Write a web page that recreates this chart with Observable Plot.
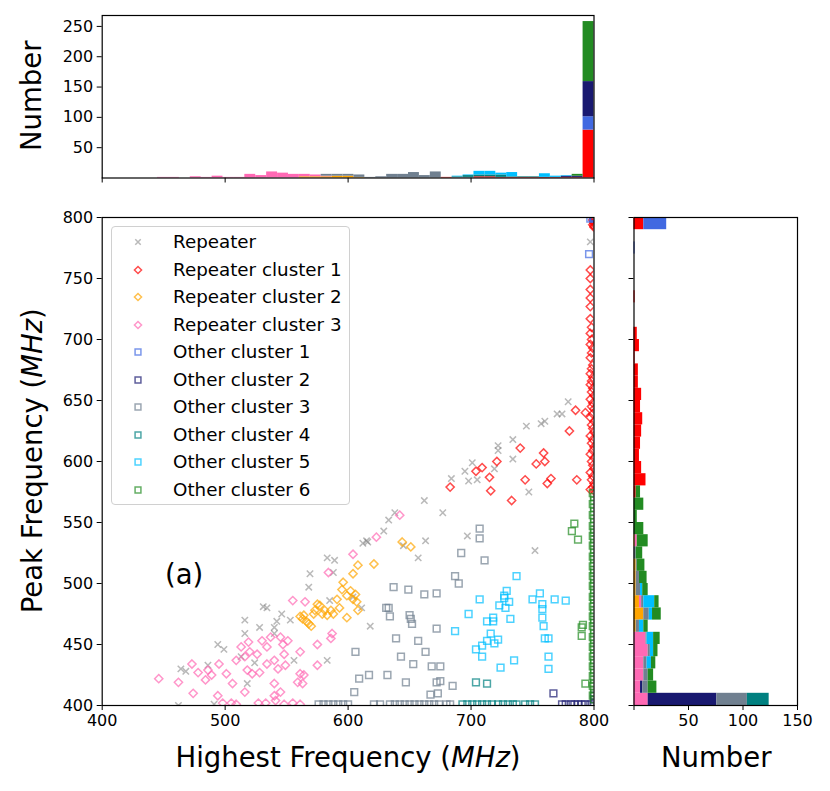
<!DOCTYPE html>
<html><head><meta charset="utf-8">
<script src="https://cdn.jsdelivr.net/npm/d3@7"></script>
<script src="https://cdn.jsdelivr.net/npm/@observablehq/plot@0.6"></script>
<style>
body{margin:0;background:#fff;font-family:"DejaVu Sans",sans-serif;}
#wrap{position:relative;width:830px;height:791px;overflow:hidden;background:#fff;}
.abs{position:absolute;}
.lbl{position:absolute;font-size:27.5px;white-space:nowrap;color:#000;line-height:1;}
#legend{position:absolute;left:111px;top:226px;width:239px;height:279px;border:1.3px solid #d0d0d0;border-radius:4px;background:rgba(255,255,255,0.85);box-sizing:border-box;}
.lrow{position:absolute;left:0;height:20px;font-size:18.3px;line-height:20px;white-space:nowrap;}
.lrow svg{position:absolute;left:19px;top:3px;}
.lrow span{position:absolute;left:61px;top:0;}
</style></head><body><div id="wrap"></div><script>
// ---------- tick values ----------
const xTicks = [400, 500, 600, 700, 800];
const yTicks = [400, 450, 500, 550, 600, 650, 700, 750, 800];
const topYTicks = [50, 100, 150, 200, 250];
const rightXTicks = [0, 50, 100, 150];

// ---------- clusters ----------
const clusterKeys = ["Repeater cluster 1","Repeater cluster 2","Repeater cluster 3","Other cluster 1","Other cluster 2","Other cluster 3","Other cluster 4","Other cluster 5","Other cluster 6"];
const clusterColors = ["red","orange","hotpink","royalblue","midnightblue","slategray","teal","deepskyblue","forestgreen"];

// ---------- scatter points [Highest Frequency, Peak Frequency] ----------
const repeaterPts = [[464,430],[468,428],[486,433],[494,450],[499,446],[513,440],[516,470],[516,459],[518,418],[528,464],[534,480],[531,481],[540,464],[542,469],[546,475],[553,470],[540,459],[524,435],[556,437],[569,508],[568,497],[583,521],[589,519],[588,509],[585,486],[604,489],[611,480],[615,535],[618,465],[583,437],[462,400],[491,401],
[612,533],[616,534],[629,543],[633,552],[638,558],[645,531],[657,521],[663,535],[662,568],[677,558],[684,586],[695,592],[698,584],[701,599],[705,585],[697,539],[719,594],[722,609],[722,613],[734,602],[734,618],[745,629],[747,575],[752,527],[757,631],[760,633],[770,639],[774,639],[779,649],[797,780]];

const rep1Pts = [[683,579],[704,592],[709,595],[715,587],[716,576],[721,600],[733,568],[740,611],[744,585],[753,598],[759,607],[760,600],[762,582],[765,586],[780,625],[785,642],[786,585],[793,640],
[797,757],[797,750],[797,741],[797,734],[797,727],[797,717],[798,710],[797,705],[798,700],[797,696],[799,693],[798,689],[797,685],[799,679],[798,676],[797,672],[799,669],[798,666],[797,663],[799,660],[798,657],[800,654],[797,651],[799,648],[798,645],[800,643],[799,639],[797,636],[800,633],[798,630],[799,627],[800,624],[797,621],[799,618],[798,615],[800,612],[799,609],[797,606],[800,603],[798,600],[799,597],[800,594],[797,591],[799,588],[798,585],[800,582],[799,579],[797,577],[800,576],
[800,800],[800,799],[799,798],[800,797],[800,796],[800,795],[799,794],[800,793],[800,792]];

const rep2Pts = [[563,471],[568,467],[572,475],[577,482],[573,478],[579,475],[583,474],[588,475],[591,487],[593,480],[596,501],[599,490],[599,472],[604,508],[604,487],[607,485],[608,478],[608,515],[621,516],[566,469],[564,474],[644,534],[651,530],[561,473],[570,465],[575,483],[581,478],[586,478],[595,495],[602,494],[606,491]];

const rep3Pts = [[446,422],[462,419],[474,410],[473,434],[478,427],[484,421],[486,429],[494,408],[495,434],[501,426],[498,402],[506,418],[513,448],[516,440],[520,444],[518,429],[516,411],[522,426],[526,442],[530,453],[534,448],[537,456],[534,434],[540,437],[540,418],[545,456],[547,450],[551,453],[548,442],[549,433],[540,408],[545,411],[541,404],[561,444],[561,426],[563,418],[559,419],[564,425],[555,486],[565,485],[575,450],[575,433],[586,455],[587,459],[584,509],[604,524],[623,538],[642,556],
[505,402],[509,401],[527,402],[533,402],[548,401],[555,402],[561,401],[489,425],[509,437],[528,427],[543,430],[519,452]];

const oth1Pts = [[796,770],[797,799],[800,800],[799,800],[800,799]];

const oth2Pts = [[767,410],[774,401],[777,401],[781,401],[784,401],[787,401],[790,401],[793,401],[797,401],[800,402],[800,405],[800,408]];

const oth3Pts = [[606,444],[609,422],[617,425],[605,411],
[707,545],[707,537],[692,525],[711,519],[687,506],[690,500],[637,497],[649,495],[662,491],[672,492],[631,480],[633,480],[634,473],[650,474],[651,471],[652,467],[672,463],[639,455],[657,453],[643,440],[663,444],[653,434],[668,432],[675,432],[632,425],[647,419],[672,419],[675,420],[685,416],[667,409],[673,410],
[576,401],[580,401],[584,401],[588,401],[592,401],[596,401],[600,401],[621,401],[626,401],[634,401],[638,401],[642,401],[646,401],[650,401],[654,401],[658,401],[662,401],[666,401],[670,401],[674,401],[680,401],[683,401]];

const oth4Pts = [[704,419],[713,418],[693,401],[697,401],[701,401],[705,401],[709,401],[713,401],[717,401],[722,401],[726,401],[730,401],[734,401],[737,401],[744,401],[748,401],[752,401]];

const oth5Pts = [[737,506],[729,494],[727,490],[727,488],[731,485],[723,482],[728,480],[707,487],[750,487],[756,492],[758,483],[768,487],[777,486],[698,475],[732,471],[718,472],[713,469],[718,469],[758,472],[759,465],[687,461],[716,459],[722,454],[713,453],[719,451],[763,455],[760,455],[709,449],[704,446],[709,440],[735,437],[763,440],[724,431],[763,430],[758,479]];

const oth6Pts = [[784,549],[782,543],[787,536],[791,466],[790,464],[790,457],[793,418],
[800,405],[799,408],[800,410],[800,413],[799,416],[800,418],[800,421],[799,424],[800,427],[800,429],[799,432],[800,435],[800,437],[799,440],[800,443],[800,446],[799,448],[800,451],[800,454],[799,456],[800,459],[800,462],[799,465],[800,468],[800,470],[799,473],[800,476],[800,478],[799,481],[800,484],[800,487],[799,489],[800,492],[800,495],[799,498],[800,500],[800,503],[799,506],[800,509],[800,511],[799,514],[800,517],[800,520],[799,522],[800,525],[800,528],[799,531],[800,533],[800,536],[799,539],[800,542],[800,544],[799,547],[800,550],[800,553],[799,556],[800,559],[800,562],[799,565],[800,568],[800,571],[799,574]];

// ---------- top histogram: counts per bin (40 bins over Highest Frequency 445–800) ----------
const topBinMin = 445, topBinMax = 800, topBinCount = 40;
const topRep1 = [0,0,0,0,0,0,0,0,0,0, 0,0,0,0,0,0,0,0,0,0, 0,0,0,0,0,0,1,0,0,2, 2,1,1,1,1,1,1,1,1,79];
const topRep2 = [0,0,0,0,0,0,0,0,0,0, 0,0,0,2,2,2,3,3,1,0, 0,0,0,0,0,0,0,0,0,0, 0,0,0,0,0,0,0,0,0,0];
const topRep3 = [1,1,0,2,1,3,1,1,6,4, 10,8,6,4,3,1,0,0,0,0, 0,0,0,0,0,0,0,0,0,0, 0,0,0,0,0,0,0,0,0,0];
const topOth1 = [0,0,0,0,0,0,0,0,0,0, 0,0,0,0,0,0,0,0,0,0, 0,0,0,0,0,0,0,0,0,0, 0,0,0,0,0,0,0,0,0,22];
const topOth2 = [0,0,0,0,0,0,0,0,0,0, 0,0,0,0,0,0,0,0,0,0, 0,0,0,0,0,0,0,0,0,0, 0,0,0,0,0,0,0,2,2,58];
const topOth3 = [0,0,0,0,0,0,0,0,0,0, 0,0,0,0,0,3,3,3,4,1, 2,6,6,9,4,10,0,1,1,0, 0,0,0,0,0,0,0,0,0,0];
const topOth4 = [0,0,0,0,0,0,0,0,0,0, 0,0,0,0,0,0,0,0,0,0, 0,0,0,0,0,0,0,1,3,3, 3,4,1,1,1,0,0,0,0,0];
const topOth5 = [0,0,0,0,0,0,0,0,0,0, 0,0,0,0,0,0,0,0,0,0, 0,0,0,0,0,0,0,1,1,6, 6,3,7,0,0,6,2,1,0,0];
const topOth6 = [0,0,0,0,0,0,0,0,0,0, 0,0,0,0,0,0,0,0,0,0, 0,0,0,0,0,0,0,0,0,0, 0,0,0,0,0,0,0,0,3,99];

// ---------- right histogram: counts per bin (40 bins over Peak Frequency 400–800) ----------
const rightBinMin = 400, rightBinMax = 800, rightBinCount = 40;
const rightRep1 = [0,0,0,0,0,0,0,0,0,0, 0,0,0,0,0,0,0,2,11,7, 5,6,7,8,6,7,4,4,1,5, 3,0,0,1,0,0,0,0,0,9];
const rightRep2 = [0,0,0,0,0,0,2,9,5,2, 2,2,0,1,0,0,0,0,0,0, 0,0,0,0,0,0,0,0,0,0, 0,0,0,0,0,0,0,0,0,0];
const rightRep3 = [13,6,9,9,13,11,0,0,2,0, 0,0,0,2,0,0,0,0,0,0, 0,0,0,0,0,0,0,0,0,0, 0,0,0,0,0,0,0,0,0,0];
const rightOth1 = [0,0,0,0,0,0,0,0,0,0, 0,0,0,0,0,0,0,0,0,0, 0,0,0,0,0,0,0,0,0,0, 0,0,0,0,0,0,0,1,0,21];
const rightOth2 = [63,2,0,0,0,0,0,0,0,0, 0,0,0,0,0,0,0,0,0,0, 0,0,0,0,0,0,0,0,0,0, 0,0,0,0,0,0,0,0,0,0];
const rightOth3 = [28,5,4,3,2,1,3,5,2,4, 3,1,2,0,0,0,0,0,0,0, 0,0,0,0,0,0,0,0,0,0, 0,0,0,0,0,0,0,0,0,0];
const rightOth4 = [20,0,0,0,0,0,0,0,0,0, 0,0,0,0,0,0,0,0,0,0, 0,0,0,0,0,0,0,0,0,0, 0,0,0,0,0,0,0,0,0,0];
const rightOth5 = [0,0,0,4,3,6,4,3,10,2, 0,0,0,0,0,0,0,0,0,0, 0,0,0,0,0,0,0,0,0,0, 0,0,0,0,0,0,0,0,0,0];
const rightOth6 = [0,8,5,4,4,6,4,8,4,5, 7,7,6,10,9,3,9,4,0,0, 0,0,0,0,0,0,0,0,0,0, 0,0,0,0,0,0,0,0,0,0];

// ---------- build tables ----------
const FONT = '"DejaVu Sans", sans-serif';
const topSeries = [topRep1, topRep2, topRep3, topOth1, topOth2, topOth3, topOth4, topOth5, topOth6];
const rightSeries = [rightRep1, rightRep2, rightRep3, rightOth1, rightOth2, rightOth3, rightOth4, rightOth5, rightOth6];
function histTable(series, lo, hi, n) {
  const w = (hi - lo) / n, rows = [];
  series.forEach((counts, ci) => counts.forEach((c, b) => {
    if (c > 0) rows.push({cluster: clusterKeys[ci], lo: lo + b * w, hi: lo + (b + 1) * w, count: c});
  }));
  return rows;
}
const topData = histTable(topSeries, topBinMin, topBinMax, topBinCount);
const rightData = histTable(rightSeries, rightBinMin, rightBinMax, rightBinCount);
const colorScale = {domain: clusterKeys, range: clusterColors};

const scatterSets = [
  {label: "Repeater", pts: repeaterPts, symbol: "times", color: "gray", r: 3, op: 0.55},
  {label: "Repeater cluster 1", pts: rep1Pts, symbol: "diamond2", color: "red", r: 3.7, op: 0.7},
  {label: "Repeater cluster 2", pts: rep2Pts, symbol: "diamond2", color: "orange", r: 3.7, op: 0.7},
  {label: "Repeater cluster 3", pts: rep3Pts, symbol: "diamond2", color: "hotpink", r: 3.7, op: 0.7},
  {label: "Other cluster 1", pts: oth1Pts, symbol: "square2", color: "royalblue", r: 4.3, op: 0.7},
  {label: "Other cluster 2", pts: oth2Pts, symbol: "square2", color: "midnightblue", r: 4.3, op: 0.7},
  {label: "Other cluster 3", pts: oth3Pts, symbol: "square2", color: "slategray", r: 4.3, op: 0.7},
  {label: "Other cluster 4", pts: oth4Pts, symbol: "square2", color: "teal", r: 4.3, op: 0.7},
  {label: "Other cluster 5", pts: oth5Pts, symbol: "square2", color: "deepskyblue", r: 4.3, op: 0.7},
  {label: "Other cluster 6", pts: oth6Pts, symbol: "square2", color: "forestgreen", r: 4.3, op: 0.7}
];

const baseStyle = {fontFamily: FONT, fontSize: "16px", background: "transparent", overflow: "visible", color: "black"};
const wrap = document.getElementById("wrap");
function place(el, left, top) { el.classList.add("abs"); el.style.left = left + "px"; el.style.top = top + "px"; wrap.appendChild(el); return el; }

// ---------- top histogram ----------
const topPlot = Plot.plot({
  width: 610, height: 195,
  marginLeft: 101.7, marginRight: 16.5, marginTop: 15, marginBottom: 17.5,
  style: baseStyle,
  x: {domain: [400, 800], ticks: xTicks, tickFormat: () => "", tickSize: 5, label: null},
  y: {domain: [0, 268], ticks: topYTicks, tickSize: 5, tickPadding: 4, label: null},
  color: colorScale,
  marks: [
    Plot.rectY(topData, {x1: "lo", x2: "hi", y: "count", fill: "cluster"}),
    Plot.frame({stroke: "black", strokeWidth: 1.2})
  ]
});
place(topPlot, 0, 0);

// ---------- main scatter ----------
const mainPlot = Plot.plot({
  width: 610, height: 596,
  marginLeft: 101.7, marginRight: 16.5, marginTop: 22, marginBottom: 86,
  style: baseStyle,
  x: {domain: [400, 800], ticks: xTicks, tickSize: 5, tickPadding: 4, label: null},
  y: {domain: [400, 800], ticks: yTicks, tickSize: 5, tickPadding: 4, label: null},
  marks: [
    ...scatterSets.map(s => Plot.dot(s.pts, {
      x: d => d[0], y: d => d[1], symbol: s.symbol, r: s.r,
      stroke: s.color, strokeOpacity: s.op, strokeWidth: 1.5, fill: "none", clip: true
    })),
    Plot.frame({stroke: "black", strokeWidth: 1.2}),
    Plot.text(["(a)"], {frameAnchor: "top-left", dx: 82, dy: 358, fontSize: 27.5, textAnchor: "middle", lineAnchor: "middle", fill: "black"})
  ]
});
place(mainPlot, 0, 195);

// ---------- right histogram ----------
const rightPlot = Plot.plot({
  width: 220, height: 596,
  marginLeft: 23.5, marginRight: 33, marginTop: 22, marginBottom: 86,
  style: baseStyle,
  x: {domain: [0, 150], ticks: rightXTicks, tickFormat: d => d === 0 ? "" : String(d), tickSize: 5, tickPadding: 4, label: null},
  y: {domain: [400, 800], ticks: yTicks, tickFormat: () => "", tickSize: 5, label: null},
  color: colorScale,
  marks: [
    Plot.rectX(rightData, {y1: "lo", y2: "hi", x: "count", fill: "cluster"}),
    Plot.frame({stroke: "black", strokeWidth: 1.2})
  ]
});
place(rightPlot, 610, 195);

// ---------- axis labels ----------
function label(html, cx, cy, rotate) {
  const d = document.createElement("div");
  d.className = "lbl";
  d.innerHTML = html;
  wrap.appendChild(d);
  const w = d.offsetWidth, h = d.offsetHeight;
  d.style.left = (cx - w / 2) + "px";
  d.style.top = (cy - h / 2) + "px";
  if (rotate) d.style.transform = "rotate(-90deg)";
}
label("Number", 32, 96, true);
label("Peak Frequency (<i>MHz</i>)", 32, 461, true);
label("Highest Frequency (<i>MHz</i>)", 348, 758, false);
label("Number", 716, 758, false);

// ---------- legend ----------
const legend = document.createElement("div");
legend.id = "legend";
wrap.appendChild(legend);
const symTypes = {times: d3.symbolTimes, diamond2: d3.symbolDiamond2, square2: d3.symbolSquare2};
scatterSets.forEach((s, i) => {
  const row = document.createElement("div");
  row.className = "lrow";
  row.style.top = (5 + i * 27.5) + "px";
  row.style.width = "230px";
  const path = d3.symbol(symTypes[s.symbol], Math.PI * s.r * s.r * 0.75)();
  row.innerHTML = `<svg width="14" height="14" viewBox="-7 -7 14 14"><path d="${path}" fill="none" stroke="${s.color}" stroke-opacity="${s.op}" stroke-width="1.5"/></svg><span>${s.label}</span>`;
  legend.appendChild(row);
});
</script></body></html>
